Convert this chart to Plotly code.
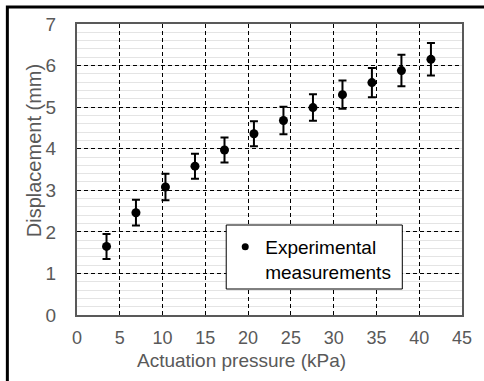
import plotly.graph_objects as go

pressure_kpa = [3.45, 6.89, 10.34, 13.79, 17.24, 20.68, 24.13, 27.58, 31.03, 34.47, 37.92, 41.37]
displacement_mm = [1.65, 2.46, 3.08, 3.58, 3.97, 4.36, 4.68, 4.99, 5.30, 5.59, 5.88, 6.15]
error_mm = [0.30, 0.31, 0.32, 0.30, 0.30, 0.30, 0.33, 0.32, 0.34, 0.35, 0.38, 0.39]
x_ticks = [0, 5, 10, 15, 20, 25, 30, 35, 40, 45]
y_ticks = [0, 1, 2, 3, 4, 5, 6, 7]
x_title = "Actuation pressure (kPa)"
y_title = "Displacement (mm)"
legend_label = "Experimental<br>measurements"

FONT = "Liberation Sans, Arial, sans-serif"
GRAY = "#595959"

fig = go.Figure()
fig.add_trace(go.Scatter(
    x=pressure_kpa, y=displacement_mm, mode="markers",
    marker=dict(color="black", size=9),
    error_y=dict(type="data", array=error_mm, visible=True, color="black", thickness=2, width=4),
    showlegend=False,
))
fig.add_trace(go.Scatter(
    x=[None], y=[None], mode="markers",
    marker=dict(color="black", size=7),
    name=legend_label,
    showlegend=True,
))

W, H = 484, 381
L, R, T, B = 77, 20, 24, 66
pw, ph = W - L - R, H - T - B

def px_x(p):
    return (p - L) / pw

def px_y(p):
    return (H - B - p) / ph

fig.update_layout(
    width=W, height=H,
    margin=dict(l=L, r=R, t=T, b=B),
    paper_bgcolor="white", plot_bgcolor="white",
    font=dict(family=FONT, size=19, color=GRAY),
    xaxis=dict(
        range=[0, 45], tickvals=x_ticks, ticktext=[str(v) for v in x_ticks],
        showgrid=True, gridcolor="black", gridwidth=1, griddash="4px,3px",
        zeroline=False, showline=True, linecolor="#595959", linewidth=2, mirror=True,
        ticks="", ticklabelstandoff=5, tickfont=dict(size=18, color=GRAY),
    ),
    yaxis=dict(
        range=[0, 7], tickvals=y_ticks, ticktext=[str(v) for v in y_ticks],
        showgrid=True, gridcolor="black", gridwidth=1, griddash="4px,3px",
        minor=dict(dtick=0.2, showgrid=True, gridcolor="#e4e4e4", gridwidth=1, griddash="solid"),
        zeroline=False, showline=True, linecolor="#595959", linewidth=2, mirror=True,
        ticks="", ticklabelstandoff=15, tickfont=dict(size=19, color=GRAY),
    ),
    legend=dict(
        x=px_x(226), y=px_y(228), xanchor="left", yanchor="top",
        bgcolor="rgba(0,0,0,0)", borderwidth=0,
        font=dict(size=19, color="black"), valign="top",
    ),
    annotations=[
        dict(text=x_title, xref="paper", yref="paper", x=px_x(242), y=px_y(361),
             xanchor="center", yanchor="middle", showarrow=False,
             font=dict(size=19, color=GRAY)),
        dict(text=y_title, xref="paper", yref="paper", x=px_x(34), y=px_y(151),
             xanchor="center", yanchor="middle", showarrow=False, textangle=-90,
             font=dict(size=20, color=GRAY)),
    ],
    shapes=[
        dict(type="rect", xref="paper", yref="paper",
             x0=px_x(227), x1=px_x(404), y0=px_y(289), y1=px_y(225),
             line=dict(color="black", width=1), fillcolor="white", layer="above"),
        dict(type="rect", xref="paper", yref="paper",
             x0=px_x(7), x1=px_x(500), y0=px_y(400), y1=px_y(7),
             line=dict(color="black", width=3), fillcolor="rgba(0,0,0,0)", layer="above"),
    ],
)

fig.write_html("out.html")
